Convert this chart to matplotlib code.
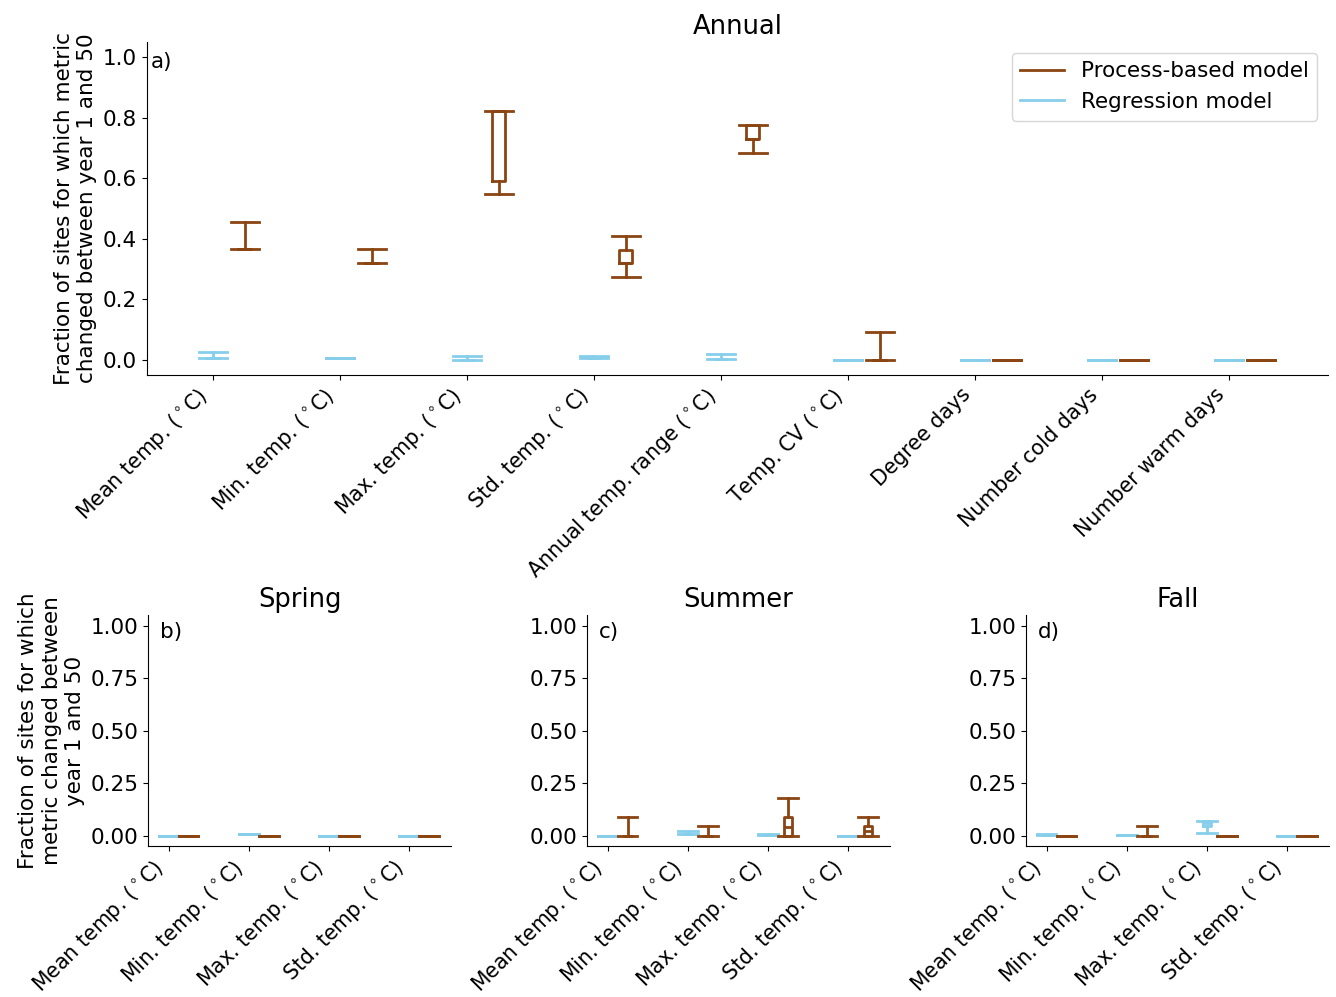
import numpy as np
from matplotlib import pyplot as plt

PROC_COLOR = "saddlebrown"
REG_COLOR = "skyblue"

annual_labels = [r"Mean temp. ($^\circ$C)", r"Min. temp. ($^\circ$C)", r"Max. temp. ($^\circ$C)",
                 r"Std. temp. ($^\circ$C)", r"Annual temp. range ($^\circ$C)", r"Temp. CV ($^\circ$C)",
                 "Degree days", "Number cold days", "Number warm days"]
season_labels = [r"Mean temp. ($^\circ$C)", r"Min. temp. ($^\circ$C)", r"Max. temp. ($^\circ$C)",
                 r"Std. temp. ($^\circ$C)"]

# box stats per metric: [whisker low, q1, median, q3, whisker high]
annual_reg = [[0.005, 0.005, 0.005, 0.005, 0.024],
              [0.005, 0.005, 0.005, 0.005, 0.005],
              [0.0, 0.0, 0.0, 0.0, 0.013],
              [0.006, 0.006, 0.006, 0.006, 0.011],
              [0.004, 0.004, 0.004, 0.004, 0.019],
              [0.0, 0.0, 0.0, 0.0, 0.0],
              [0.0, 0.0, 0.0, 0.0, 0.0],
              [0.0, 0.0, 0.0, 0.0, 0.0],
              [0.0, 0.0, 0.0, 0.0, 0.0]]
annual_proc = [[0.365, 0.365, 0.365, 0.365, 0.456],
               [0.319, 0.319, 0.319, 0.319, 0.365],
               [0.547, 0.592, 0.822, 0.822, 0.822],
               [0.273, 0.319, 0.319, 0.363, 0.410],
               [0.684, 0.728, 0.728, 0.777, 0.777],
               [0.0, 0.0, 0.0, 0.0, 0.092],
               [0.0, 0.0, 0.0, 0.0, 0.0],
               [0.0, 0.0, 0.0, 0.0, 0.0],
               [0.0, 0.0, 0.0, 0.0, 0.0]]

spring_reg = [[0.0] * 5, [0.01] * 5, [0.0] * 5, [0.0] * 5]
spring_proc = [[0.0] * 5, [0.0] * 5, [0.0] * 5, [0.0] * 5]

summer_reg = [[0.0] * 5,
              [0.01, 0.01, 0.01, 0.01, 0.025],
              [0.003, 0.003, 0.003, 0.003, 0.008],
              [0.0] * 5]
summer_proc = [[0.0, 0.0, 0.0, 0.0, 0.091],
               [0.0, 0.0, 0.0, 0.0, 0.047],
               [0.0, 0.0, 0.044, 0.091, 0.18],
               [0.0, 0.0, 0.024, 0.047, 0.091]]

fall_reg = [[0.004, 0.004, 0.004, 0.004, 0.01],
            [0.006] * 5,
            [0.013, 0.047, 0.06, 0.073, 0.073],
            [0.0] * 5]
fall_proc = [[0.0] * 5,
             [0.0, 0.0, 0.0, 0.0, 0.047],
             [0.0] * 5,
             [0.0] * 5]


def to_stats(rows):
    return [dict(whislo=r[0], q1=r[1], med=r[2], q3=r[3], whishi=r[4], fliers=[]) for r in rows]


def draw(ax, reg, proc, labels, capw):
    n = len(labels)
    pos = np.arange(n)
    for rows, color, shift in [(reg, REG_COLOR, 0.0), (proc, PROC_COLOR, 0.25)]:
        props = dict(color=color, linewidth=2)
        ax.bxp(to_stats(rows), positions=pos + shift, widths=0.1, capwidths=capw,
               showfliers=False, boxprops=props, whiskerprops=props,
               capprops=props, medianprops=props, manage_ticks=False)
    ax.set_xticks(pos)
    ax.set_xticklabels(labels, rotation=45, ha="right", fontsize=14.8)
    ax.spines["top"].set_visible(False)
    ax.spines["right"].set_visible(False)
    ax.set_ylim(-0.05, 1.05)


def main():
    plt.rcParams["font.size"] = 15.5
    fig = plt.figure(figsize=(13.36, 9.97), dpi=100)

    ax_a = fig.add_axes([0.110, 0.624, 0.884, 0.334])
    draw(ax_a, annual_reg, annual_proc, annual_labels, 0.22)
    ax_a.set_xlim(-0.52, 8.78)
    ax_a.set_yticks([0.0, 0.2, 0.4, 0.6, 0.8, 1.0])
    ax_a.set_title("Annual", fontsize=18.5)
    ax_a.set_ylabel("Fraction of sites for which metric\nchanged between year 1 and 50")
    ax_a.text(0.003, 0.97, "a)", transform=ax_a.transAxes, va="top")
    ax_a.plot([], [], color=PROC_COLOR, linewidth=2, label="Process-based model")
    ax_a.plot([], [], color=REG_COLOR, linewidth=2, label="Regression model")
    ax_a.legend(loc="upper right")

    seasons = [("Spring", spring_reg, spring_proc, "b)"),
               ("Summer", summer_reg, summer_proc, "c)"),
               ("Fall", fall_reg, fall_proc, "d)")]
    lefts = [0.1108, 0.4394, 0.768]
    for i, (name, reg, proc, tag) in enumerate(seasons):
        ax = fig.add_axes([lefts[i], 0.151, 0.2268, 0.2317])
        draw(ax, reg, proc, season_labels, 0.24)
        ax.set_xlim(-0.26, 3.525)
        ax.set_yticks([0.0, 0.25, 0.5, 0.75, 1.0])
        ax.set_title(name, fontsize=18.5)
        ax.text(0.04, 0.97, tag, transform=ax.transAxes, va="top")
        if i == 0:
            ax.set_ylabel("Fraction of sites for which\nmetric changed between\nyear 1 and 50")

    fig.savefig("out.png", dpi=100)


if __name__ == "__main__":
    main()
